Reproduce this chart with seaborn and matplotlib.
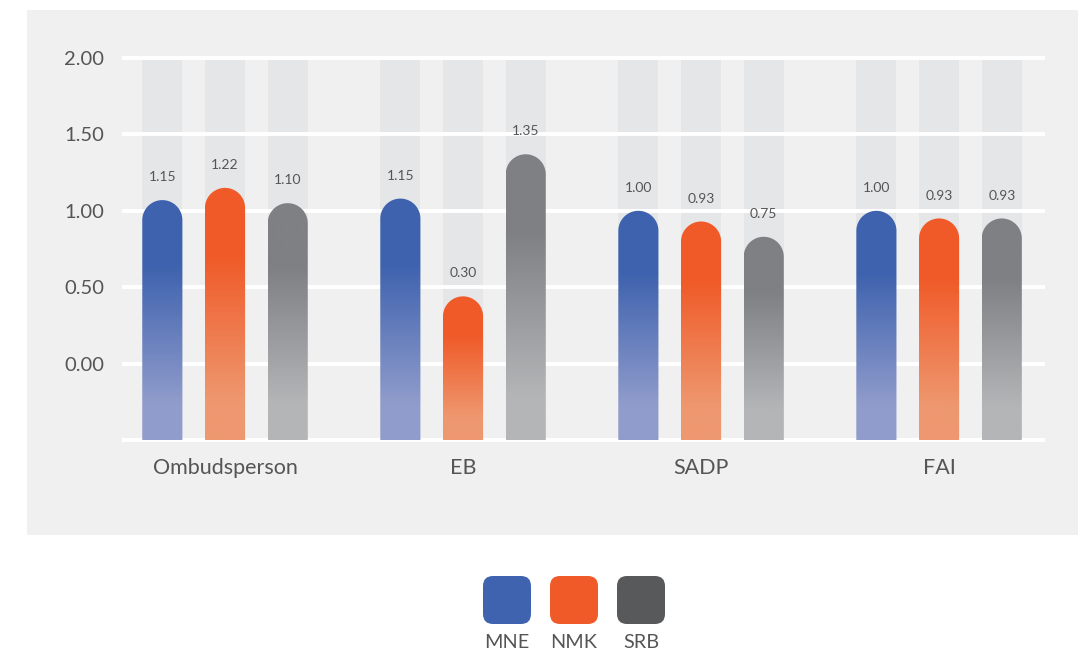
import numpy as np
import pandas as pd
import matplotlib
matplotlib.use("Agg")
import matplotlib.pyplot as plt
import seaborn as sns
from matplotlib.path import Path
from matplotlib.patches import PathPatch, Rectangle, FancyBboxPatch
from matplotlib.colors import to_rgb

# ---- data ----
categories = ["Ombudsperson", "EB", "SADP", "FAI"]
countries = ["MNE", "NMK", "SRB"]
label_values = {
    "MNE": [1.15, 1.15, 1.00, 1.00],
    "NMK": [1.22, 0.30, 0.93, 0.93],
    "SRB": [1.10, 1.35, 0.75, 0.93],
}
# bar heights as drawn in the picture (tops of the rounded bars)
bar_heights = {
    "MNE": [1.07, 1.08, 1.00, 1.00],
    "NMK": [1.15, 0.44, 0.93, 0.95],
    "SRB": [1.05, 1.37, 0.83, 0.95],
}
yticks = [0.0, 0.5, 1.0, 1.5, 2.0]
ytick_labels = ["0.00", "0.50", "1.00", "1.50", "2.00"]

# ---- style ----
top_colors = {"MNE": "#3e62ae", "NMK": "#f05a28", "SRB": "#7f8083"}
bottom_colors = {"MNE": "#909ccb", "NMK": "#ee9870", "SRB": "#b4b5b7"}
legend_colors = {"MNE": "#3f63ae", "NMK": "#f05a28", "SRB": "#58595b"}
text_color = "#555555"
base = -0.5

sns.set_theme(style="white")
plt.rcParams["font.family"] = ["Lato", "DejaVu Sans"]

rows = []
for c in countries:
    for cat, h, v in zip(categories, bar_heights[c], label_values[c]):
        rows.append({"category": cat, "country": c, "height": h, "label": v})
df = pd.DataFrame(rows)

W, H = 1078, 652
fig = plt.figure(figsize=(W / 100, H / 100), dpi=100)
fig.patch.set_facecolor("white")
fig.patches.append(Rectangle((27 / W, 1 - 535 / H), (W - 27) / W, 525 / H,
                             transform=fig.transFigure, facecolor="#f0f0f0",
                             edgecolor="none", zorder=-10))

ax = fig.add_axes([122 / W, 1 - 445 / H, (1045 - 122) / W, (445 - 50) / H])
ax.set_zorder(1)
ax.set_facecolor("none")

sns.barplot(data=df, x="category", y="height", hue="country", order=categories,
            hue_order=countries, width=0.79, ax=ax, errorbar=None,
            palette=legend_colors)
if ax.legend_ is not None:
    ax.legend_.remove()

ax.set_xlim(-0.4328, 3.445)
ax.set_ylim(base - 5 / 153, 2.0 + 8 / 153)

# pixel scales
p0 = ax.transData.transform((0, 0))
p1 = ax.transData.transform((1, 1))
px_per_x = p1[0] - p0[0]
px_per_y = p1[1] - p0[1]

# gridlines
for g in [base] + yticks:
    ax.axhline(g, color="white", lw=2.8, zorder=2)

bar_frac = 0.64
patches = list(ax.patches)
for i, c in enumerate(countries):
    for j, cat in enumerate(categories):
        p = patches[i * len(categories) + j]
        p.set_visible(False)
        cx = p.get_x() + p.get_width() / 2
        w = p.get_width() * bar_frac
        x0, x1 = cx - w / 2, cx + w / 2
        top = p.get_height()
        # track
        ax.add_patch(Rectangle((x0, base), w, 2.0 - base, facecolor="#e5e6e8",
                               edgecolor="none", zorder=1))
        # rounded bar
        rx = w / 2
        ry = rx * px_per_x / px_per_y
        t = np.linspace(np.pi, 0, 40)
        arc = np.column_stack([cx + rx * np.cos(t), top - ry + ry * np.sin(t)])
        verts = np.vstack([[x0, base], [x0, top - ry], arc, [x1, top - ry],
                           [x1, base], [x0, base]])
        codes = [Path.MOVETO] + [Path.LINETO] * (len(verts) - 2) + [Path.CLOSEPOLY]
        shape = PathPatch(Path(verts, codes), facecolor="none", edgecolor="none",
                          zorder=3)
        ax.add_patch(shape)
        n = 200
        s = np.linspace(0, 1, n)  # 0 = top, 1 = bottom
        f = np.clip((s - 0.27) / (0.85 - 0.27), 0, 1)[:, None]
        ct = np.array(to_rgb(top_colors[c]))
        cb = np.array(to_rgb(bottom_colors[c]))
        grad = (ct * (1 - f) + cb * f)[:, None, :]
        im = ax.imshow(grad, extent=[x0, x1, base, top], aspect="auto",
                       origin="upper", zorder=3, interpolation="bilinear")
        im.set_clip_path(shape)
        ax.text(cx, top + 0.15, f"{label_values[c][j]:.2f}", ha="center",
                va="center", fontsize=10, color=text_color, zorder=4)

ax.set_xlim(-0.4328, 3.445)
ax.set_ylim(base - 5 / 153, 2.0 + 8 / 153)
ax.set_yticks(yticks)
ax.set_yticklabels(ytick_labels)
ax.set_xlabel("")
ax.set_ylabel("")
ax.tick_params(axis="y", length=0, pad=13, labelsize=14.5, labelcolor=text_color)
ax.tick_params(axis="x", length=0, pad=9, labelsize=15.5, labelcolor=text_color)
for sp in ax.spines.values():
    sp.set_visible(False)

# legend
for k, c in enumerate(countries):
    cxp = 507 + 67 * k
    fig.patches.append(FancyBboxPatch(((cxp - 20) / W, 1 - 620 / H), 40 / W, 40 / H,
                                      boxstyle=f"round,pad={4/W},rounding_size={10/W}",
                                      transform=fig.transFigure,
                                      facecolor=legend_colors[c], edgecolor="none",
                                      mutation_aspect=W / H))
    fig.text(cxp / W, 1 - 642 / H, c, ha="center", va="center", fontsize=14.3,
             color=text_color)

fig.savefig("out.png", dpi=100)
